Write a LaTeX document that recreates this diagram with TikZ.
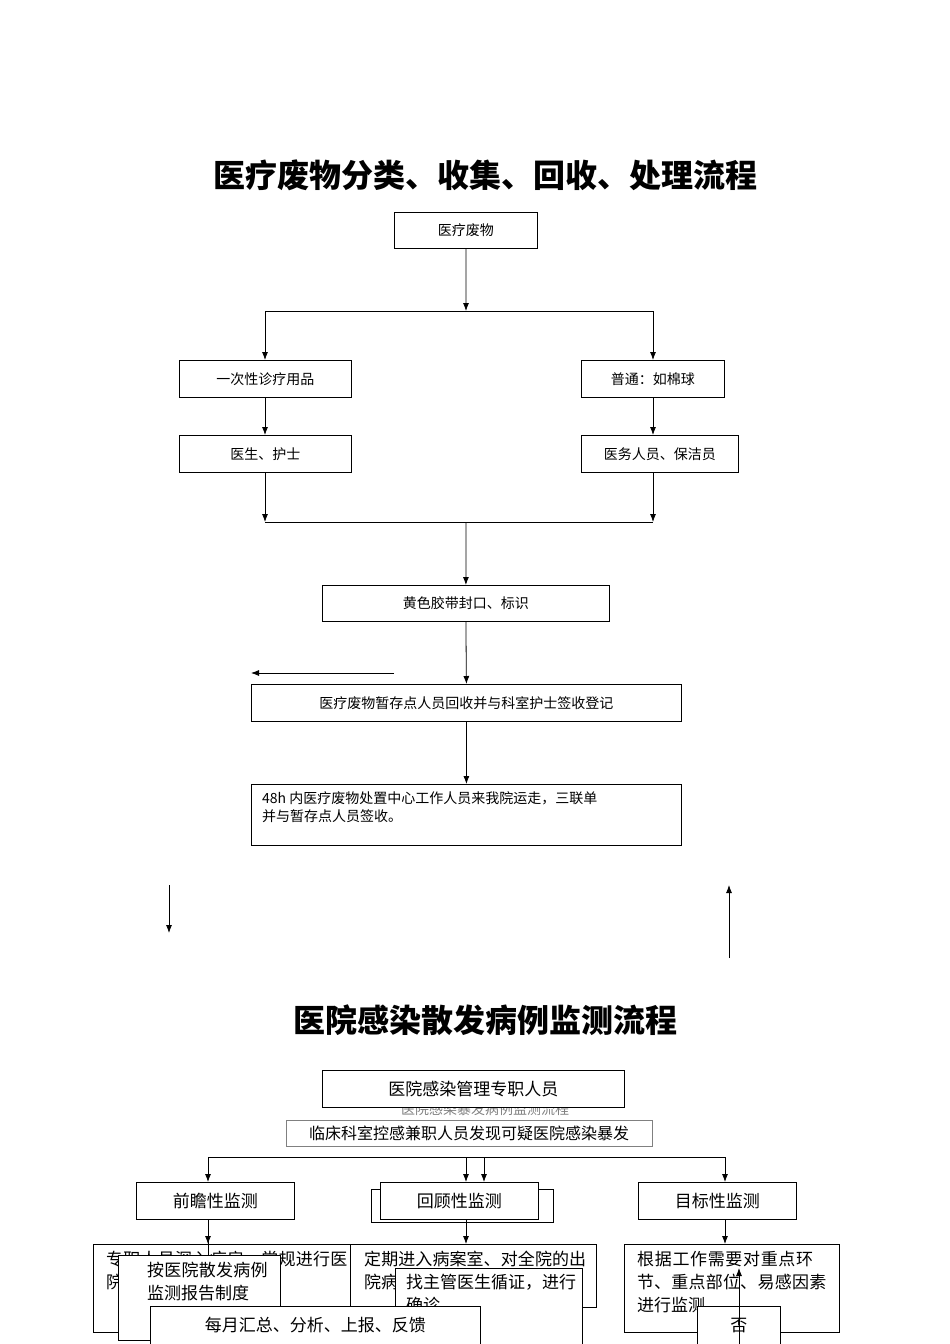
\documentclass[tikz,border=0pt]{standalone}
\usepackage{fontspec}
\setmainfont{Liberation Serif}
\newfontfamily\cjk{Noto Sans CJK SC}
\XeTeXlinebreaklocale "zh"
\XeTeXlinebreakskip=0pt plus 1pt
\usetikzlibrary{arrows.meta}
\begin{document}
\begin{tikzpicture}[x=1pt,y=-1pt,>={Latex[length=8pt,width=6pt]},
 bx/.style={draw,thick,fill=white,inner sep=0pt},
 lbl/.style={font=\cjk\fontsize{14}{16}\selectfont},
 big/.style={font=\cjk\bfseries\fontsize{32}{36}\selectfont},
 par/.style={font=\cjk\fontsize{17}{23}\selectfont,align=left,anchor=north west,inner sep=0pt}]
\useasboundingbox (0,0) rectangle (950,1344);
\clip (0,0) rectangle (950,1344);
% part 1
\node[big] (t1) at (485,175) {医疗废物分类、收集、回收、处理流程};
\node[bx,minimum width=143,minimum height=36,anchor=north west] (a) at (394,212) {};
\node[lbl] at (a) {医疗废物};
\coordinate (s1) at (466,311);
\draw[thick,->] (a.south) -- (s1);
\draw[thick] (265,311) -- (653,311);
\node[bx,minimum width=172,minimum height=37,anchor=north west] (b1) at (179,360) {};
\node[lbl] at (b1) {一次性诊疗用品};
\node[bx,minimum width=143,minimum height=37,anchor=north west] (b2) at (581,360) {};
\node[lbl] at (b2) {普通：如棉球};
\draw[thick,->] (265,311) -- (265,360);
\draw[thick,->] (653,311) -- (653,360);
\node[bx,minimum width=172,minimum height=37,anchor=north west] (c1) at (179,435) {};
\node[lbl] at (c1) {医生、护士};
\node[bx,minimum width=157,minimum height=37,anchor=north west] (c2) at (581,435) {};
\node[lbl] at (c2) {医务人员、保洁员};
\draw[thick,->] (265,397) -- (265,435);
\draw[thick,->] (653,397) -- (653,435);
\draw[thick,->] (265,472) -- (265,522);
\draw[thick,->] (653,472) -- (653,522);
\draw[thick] (265,522) -- (653,522);
\node[bx,minimum width=287,minimum height=36,anchor=north west] (d) at (322,585) {};
\node[lbl] at (d) {黄色胶带封口、标识};
\draw[thick,->] (466,522) -- (d.north);
\node[bx,minimum width=430,minimum height=37,anchor=north west] (e) at (251,684) {};
\node[lbl] at (e) {医疗废物暂存点人员回收并与科室护士签收登记};
\draw[thick,->] (d.south) -- (e.north);
\coordinate (l1) at (394,673); \coordinate (l2) at (251,673);
\draw[thick,->] (l1) -- (l2);
\node[bx,minimum width=430,minimum height=61,anchor=north west] (f) at (251,784) {};
\node[lbl,anchor=north west,align=left,inner sep=0pt] at (262,791) {48h 内医疗废物处置中心工作人员来我院运走，三联单\\[2pt]并与暂存点人员签收。};
\draw[thick,->] (e.south) -- (f.north);
\coordinate (g1) at (169,885); \coordinate (g2) at (169,933);
\draw[thick,->] (g1) -- (g2);
\coordinate (h1) at (729,958); \coordinate (h2) at (729,885);
\draw[thick,->] (h1) -- (h2);
% part 2
\node[big] (t2) at (485,1020) {医院感染散发病例监测流程};
\node[lbl,gray] at (485,1109) {医院感染暴发病例监测流程};
\node[bx,minimum width=302,minimum height=37,anchor=north west] (m) at (322,1070) {};
\node[font=\cjk\fontsize{17}{20}\selectfont] at (m) {医院感染管理专职人员};
\node[draw=gray,fill=white,minimum width=366,minimum height=26,anchor=north west,inner sep=0pt] (n) at (286,1120) {};
\node[font=\cjk\fontsize{16}{20}\selectfont] at (n) {临床科室控感兼职人员发现可疑医院感染暴发};
\draw[thick] (208,1157) -- (725,1157);
\node[bx,minimum width=158,minimum height=37,anchor=north west] (p1) at (136,1182) {};
\node[font=\cjk\fontsize{17}{20}\selectfont] at (p1) {前瞻性监测};
\node[bx,minimum width=182,minimum height=33,anchor=north west] (p2s) at (371,1189) {};
\node[bx,minimum width=158,minimum height=37,anchor=north west] (p2) at (380,1182) {};
\node[font=\cjk\fontsize{17}{20}\selectfont] at (p2) {回顾性监测};
\node[bx,minimum width=158,minimum height=37,anchor=north west] (p3) at (638,1182) {};
\node[font=\cjk\fontsize{17}{20}\selectfont] at (p3) {目标性监测};
\draw[thick,->] (208,1157) -- (208,1182);
\draw[thick,->] (466,1157) -- (466,1182);
\draw[thick,->] (484,1157) -- (484,1182);
\draw[thick,->] (725,1157) -- (725,1182);
\node[bx,minimum width=279,minimum height=88,anchor=north west] (q1) at (93,1244) {};
\node[par,text width=250] at (106,1251) {专职人员深入病房，常规进行医院感染监测住院病人};
\node[bx,minimum width=246,minimum height=63,anchor=north west] (q2) at (350,1244) {};
\node[par,text width=225] at (364,1251) {定期进入病案室、对全院的出院病历进行回顾性调查};
\node[bx,minimum width=215,minimum height=88,anchor=north west] (q3) at (624,1244) {};
\node[par,text width=198] at (637,1251) {根据工作需要对重点环节、重点部位、易感因素进行监测};
\draw[thick,->] (208,1219) -- (208,1244);
\draw[thick,->] (466,1219) -- (466,1244);
\draw[thick,->] (725,1219) -- (725,1244);
\node[bx,minimum width=162,minimum height=85,anchor=north west] (r1) at (118,1255) {};
\node[par,text width=128] at (147,1262) {按医院散发病例监测报告制度};
\draw[thick] (208,1219) -- (208,1255);
\node[bx,minimum width=187,minimum height=76,anchor=north west] (r2) at (395,1268) {};
\node[par,text width=170] at (406,1274) {找主管医生循证，进行确诊};
\node[bx,minimum width=330,minimum height=38,anchor=north west] (r3) at (150,1306) {};
\node[font=\cjk\fontsize{17}{20}\selectfont] at (r3) {每月汇总、分析、上报、反馈};
\node[bx,minimum width=83,minimum height=38,anchor=north west] (r4) at (697,1306) {};
\node[font=\cjk\fontsize{17}{20}\selectfont] at (r4) {否};
\coordinate (u1) at (739,1344); \coordinate (u2) at (739,1268);
\draw[thick,->] (u1) -- (u2);
\end{tikzpicture}
\end{document}
